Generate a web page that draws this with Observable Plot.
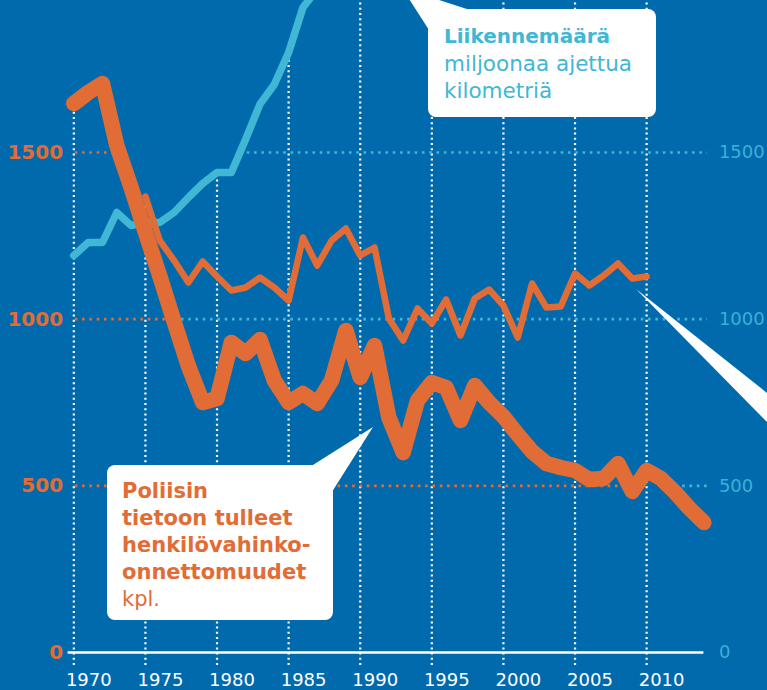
<!DOCTYPE html>
<html><head><meta charset="utf-8">
<script src="https://cdn.jsdelivr.net/npm/d3@7"></script>
<script src="https://cdn.jsdelivr.net/npm/@observablehq/plot@0.6"></script>
<style>
html,body{margin:0;padding:0;background:#006aad;}
#wrap{position:relative;width:767px;height:690px;overflow:hidden;background:#006aad;}
#wrap > svg{display:block;}
#ann{position:absolute;left:0;top:0;}
</style></head><body><div id="wrap"></div>
<script>
// ---- data ----
const accidentYears = [1970,1971,1972,1973,1974,1975,1976,1977,1978,1979,1980,1981,1982,1983,1984,1985,1986,1987,1988,1989,1990,1991,1992,1993,1994,1995,1996,1997,1998,1999,2000,2001,2002,2003,2004,2005,2006,2007,2008,2009,2010,2011,2012,2013,2014];
const accidents = [1647,1680,1707,1521,1395,1260,1130,993,860,750,762,930,897,939,816,750,777,747,816,966,825,921,705,600,756,810,795,696,801,750,708,654,603,567,555,546,519,522,567,483,546,522,480,432,390];

const secondYears = [1975,1976,1977,1978,1979,1980,1981,1982,1983,1984,1985,1986,1987,1988,1989,1990,1991,1992,1993,1994,1995,1996,1997,1998,1999,2000,2001,2002,2003,2004,2005,2006,2007,2008,2009,2010];
const secondSeries = [1368,1236,1176,1110,1173,1128,1086,1095,1125,1095,1056,1245,1161,1236,1272,1191,1215,1002,936,1032,987,1059,951,1062,1089,1041,945,1107,1035,1038,1137,1101,1131,1167,1122,1128];

const trafficYears = [1970,1971,1972,1973,1974,1975,1976,1977,1978,1979,1980,1981,1982,1983,1984,1985,1986,1987,1988];
const traffic = [1191,1230,1230,1320,1281,1290,1290,1320,1365,1407,1440,1440,1540,1645,1704,1800,1935,1990,2100];

const yTicks = [0,500,1000,1500];
const yearTicks = [1970,1975,1980,1985,1990,1995,2000,2005,2010];
const yearLabels = ["1970","1975","1980","1985","1990","1995","2000","2005","2010"];

// dotted horizontal grid pieces (value, from-year, to-year)
const gridOrangeValues = [500,1000,1500];
const gridOrangeFrom = [1970.1,1970.1,1970.1];
const gridOrangeTo = [2008.8,1977.0,1973.3];
const gridCyanValues = [500,1000,1500];
const gridCyanFrom = [2011.5,1977.0,1981.6];
const gridCyanTo = [2014.25,2014.25,2014.25];

// ---- styles ----
const BG = "#006aad", ORANGE = "#e26c35", CYAN = "#40b7d4", CYAN_LBL = "#3cb0d6";
const W = 767, H = 690;
const mL = 67.6, mR = 63.6, mT = 0, mB = 38;
const xDomain = [1969.6, 2014];
const yDomain = [0, 1956];

const accRows = accidentYears.map((y,i)=>({year:y, value:accidents[i]}));
const secRows = secondYears.map((y,i)=>({year:y, value:secondSeries[i]}));
const trafRows = trafficYears.map((y,i)=>({year:y, value:traffic[i]}));
const gridO = gridOrangeValues.map((v,i)=>({value:v, from:gridOrangeFrom[i], to:gridOrangeTo[i]}));
const gridC = gridCyanValues.map((v,i)=>({value:v, from:gridCyanFrom[i], to:gridCyanTo[i]}));

function valueAt(years, vals, yr){ const i = years.indexOf(yr); return i >= 0 ? vals[i] : -Infinity; }
function gridTop(yr){
  if (yr > trafficYears[trafficYears.length-1]) return yDomain[1];
  return Math.max(valueAt(accidentYears,accidents,yr), valueAt(secondYears,secondSeries,yr), valueAt(trafficYears,traffic,yr));
}
const unitsPerPx = (yDomain[1]-yDomain[0])/(H-mT-mB);
const tickExt = 13*unitsPerPx;

const chart = Plot.plot({
  width: W, height: H,
  marginLeft: mL, marginRight: mR, marginTop: mT, marginBottom: mB,
  x: {domain: xDomain, axis: null},
  y: {domain: yDomain, axis: null},
  style: {background: "transparent", fontFamily: "DejaVu Sans"},
  marks: [
    Plot.ruleX(yearTicks, {x: d=>d, y1: -tickExt, y2: d=>gridTop(d), stroke: "#fff", strokeWidth: 2.2, strokeDasharray: "2,3.2"}),
    Plot.ruleY(gridO, {y: "value", x1: "from", x2: "to", stroke: ORANGE, strokeWidth: 2.6, strokeDasharray: "2.6,4.7"}),
    Plot.ruleY(gridC, {y: "value", x1: "from", x2: "to", stroke: CYAN, strokeWidth: 2.6, strokeDasharray: "2.6,4.7"}),
    Plot.ruleY([0], {stroke: "#fff", strokeWidth: 2.6}),
    Plot.line(trafRows, {x: "year", y: "value", stroke: CYAN, strokeWidth: 7.5, strokeLinejoin: "round", strokeLinecap: "round", clip: true}),
    Plot.line(accRows, {x: "year", y: "value", stroke: ORANGE, strokeWidth: 15.5, strokeLinejoin: "round", strokeLinecap: "round"}),
    Plot.line(secRows, {x: "year", y: "value", stroke: ORANGE, strokeWidth: 6.5, strokeLinejoin: "round", strokeLinecap: "round"}),
    Plot.text(yTicks, {x: xDomain[0], y: d=>d, text: d=>String(d), textAnchor: "end", dx: -5, fill: ORANGE, fontSize: 20, fontWeight: "bold", fontFamily: "DejaVu Sans"}),
    Plot.text(yTicks, {x: xDomain[1], y: d=>d, text: d=>String(d), textAnchor: "start", dx: 15, fill: CYAN_LBL, fontSize: 18, fontFamily: "DejaVu Sans"}),
    Plot.text(yearTicks, {x: d=>d, y: 0, text: (d,i)=>yearLabels[i], textAnchor: "middle", dx: 15, dy: 28, fill: "#fff", fontSize: 18, fontFamily: "DejaVu Sans"})
  ]
});
const wrap = document.getElementById("wrap");
wrap.appendChild(chart);

// ---- annotation overlay (callout boxes) ----
const ann = d3.select(wrap).append("svg").attr("id","ann").attr("width",W).attr("height",H)
  .style("font-family","DejaVu Sans");
ann.append("polygon").attr("points","402,-12 429,30 470,10").attr("fill","#fff");
ann.append("rect").attr("x",428).attr("y",9).attr("width",228).attr("height",108).attr("rx",8).attr("fill","#fff");
ann.append("polygon").attr("points","373,427 305,470 330,495").attr("fill","#fff");
ann.append("rect").attr("x",107).attr("y",465).attr("width",226).attr("height",155).attr("rx",8).attr("fill","#fff");
ann.append("polygon").attr("points","636,289 767,393 767,422").attr("fill","#fff");

const topLines = [["Liikennemäärä","bold",20,43],["miljoonaa ajettua","normal",21.5,70.5],["kilometriä","normal",21.5,98]];
topLines.forEach(([t,w,s,y])=>ann.append("text").attr("x",444).attr("y",y).attr("fill",CYAN)
  .attr("font-size",s).attr("font-weight",w).text(t));
const botLines = [["Poliisin","bold",21,498],["tietoon tulleet","bold",21,525],["henkilövahinko-","bold",21,552],["onnettomuudet","bold",21,578.5],["kpl.","normal",21,606]];
botLines.forEach(([t,w,s,y])=>ann.append("text").attr("x",122).attr("y",y).attr("fill",ORANGE)
  .attr("font-size",s).attr("font-weight",w).text(t));
</script></body></html>
